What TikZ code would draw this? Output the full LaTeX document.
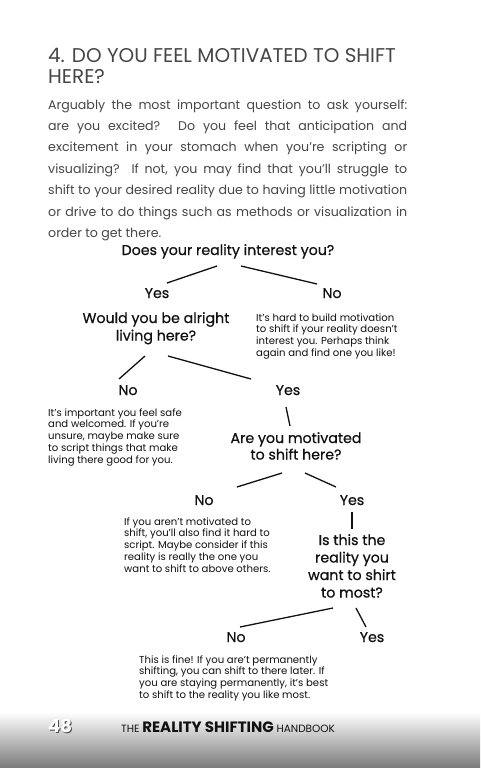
\documentclass[tikz,border=0pt]{standalone}
\usepackage{fontspec}
\setmainfont{Poppins}
\newfontfamily\qfont{Poppins}[FakeBold=0.6]
\usetikzlibrary{calc}
\definecolor{bodygray}{HTML}{464646}
\definecolor{inkblack}{HTML}{111111}
\begin{document}
\begin{tikzpicture}[x=1pt,y=-1pt,
  qtext/.style={font=\qfont\fontsize{14.2}{17.5}\selectfont, text=inkblack, inner sep=0, anchor=base},
  anstext/.style={font=\qfont\fontsize{14.2}{17}\selectfont, text=inkblack, inner sep=0, anchor=base},
  notetext/.style={font=\fontsize{10.1}{11.8}\selectfont, text=inkblack, inner sep=0, anchor=base west},
  link/.style={line width=1.3pt, inkblack}]
\useasboundingbox (0,0) rectangle (480,768);
\fill[white] (0,0) rectangle (480,768);
% footer gradient
\shade[top color=white, bottom color=black!52] (0,712) rectangle (480,768);
% title
\node[inner sep=0, anchor=base west, text=bodygray, font=\fontsize{19.9}{21}\selectfont] (title) at (48,63)
  {\parbox[t]{420pt}{\raggedright 4. DO YOU FEEL MOTIVATED TO SHIFT\\HERE?}};
% body
\node[inner sep=0, anchor=base west, text=bodygray, font=\fontsize{12.6}{21.4}\selectfont] (body) at (48,109)
  {\parbox[t]{359pt}{\tolerance=10000\hyphenpenalty=10000\parindent=0pt
  Arguably the most important question to ask yourself:\linebreak
  are you excited? Do you feel that anticipation and\linebreak
  excitement in your stomach when you’re scripting or\linebreak
  visualizing? If not, you may find that you’ll struggle to\linebreak
  shift to your desired reality due to having little motivation\linebreak
  or drive to do things such as methods or visualization in\linebreak
  order to get there.}};
% flowchart
\node[qtext] (q1) at (228,255) {Does your reality interest you?};
\node[anstext] (yes1) at (157,298) {Yes};
\node[anstext] (no1) at (332,298) {No};
\node[qtext] (q2) at (156,323) {\parbox[t]{200pt}{\centering Would you be alright\\living here?}};
\node[notetext] (n1) at (256,321) {\parbox[t]{200pt}{\raggedright It’s hard to build motivation\\to shift if your reality doesn’t\\interest you. Perhaps think\\again and find one you like!}};
\node[anstext] (no2) at (128,395) {No};
\node[anstext] (yes2) at (288,395) {Yes};
\node[notetext] (n2) at (48,416) {\parbox[t]{200pt}{\raggedright It’s important you feel safe\\and welcomed. If you’re\\unsure, maybe make sure\\to script things that make\\living there good for you.}};
\node[qtext, font=\qfont\fontsize{14.2}{16.5}\selectfont] (q3) at (296,443) {\parbox[t]{200pt}{\centering Are you motivated\\to shift here?}};
\node[anstext] (no3) at (204,505) {No};
\node[anstext] (yes3) at (352,505) {Yes};
\node[notetext] (n3) at (124,525) {\parbox[t]{200pt}{\raggedright If you aren’t motivated to\\shift, you’ll also find it hard to\\script. Maybe consider if this\\reality is really the one you\\want to shift to above others.}};
\node[qtext] (q4) at (352,545) {\parbox[t]{200pt}{\centering Is this the\\reality you\\want to shirt\\to most?}};
\node[anstext] (no4) at (236,642) {No};
\node[anstext] (yes4) at (372,642) {Yes};
\node[notetext] (n4) at (139,663) {\parbox[t]{260pt}{\raggedright This is fine! If you are’t permanently\\shifting, you can shift to there later. If\\you are staying permanently, it’s best\\to shift to the reality you like most.}};
% connector ends
\coordinate (q1l) at (217,266); \coordinate (y1t) at (167,283);
\coordinate (q1r) at (241,266); \coordinate (n1t) at (317,284);
\coordinate (q2l) at (145,356); \coordinate (n2t) at (119,379);
\coordinate (q2r) at (168,356); \coordinate (y2t) at (251,379);
\coordinate (y2b) at (286,407); \coordinate (q3t) at (290,426);
\coordinate (q3l) at (282,473); \coordinate (n3t) at (237,487);
\coordinate (q3r) at (305,473); \coordinate (y3t) at (336,487);
\coordinate (y3b) at (352,512); \coordinate (q4t) at (352,529);
\coordinate (q4l) at (333,608); \coordinate (n4t) at (240,627);
\coordinate (q4r) at (356,608); \coordinate (y4t) at (366,627);
\draw[link] (q1l) -- (y1t);
\draw[link] (q1r) -- (n1t);
\draw[link] (q2l) -- (n2t);
\draw[link] (q2r) -- (y2t);
\draw[link] (y2b) -- (q3t);
\draw[link] (q3l) -- (n3t);
\draw[link] (q3r) -- (y3t);
\draw[link] (y3b) -- (q4t);
\draw[link] (q4l) -- (n4t);
\draw[link] (q4r) -- (y4t);
% footer
\node[inner sep=0, anchor=base west, text=black!70, font=\fontsize{18}{18}\selectfont\bfseries] (pgshadow) at (49,733) {48};
\node[inner sep=0, anchor=base west, text=white, font=\fontsize{18}{18}\selectfont\bfseries] (pg) at (48,732) {48};
\node[inner sep=0, anchor=base west, text=inkblack] (foot) at (121,732)
  {{\fontsize{10.5}{10}\selectfont THE }{\fontsize{15}{15}\selectfont\bfseries REALITY SHIFTING}{\fontsize{10.5}{10}\selectfont\ HANDBOOK}};
\end{tikzpicture}
\end{document}
